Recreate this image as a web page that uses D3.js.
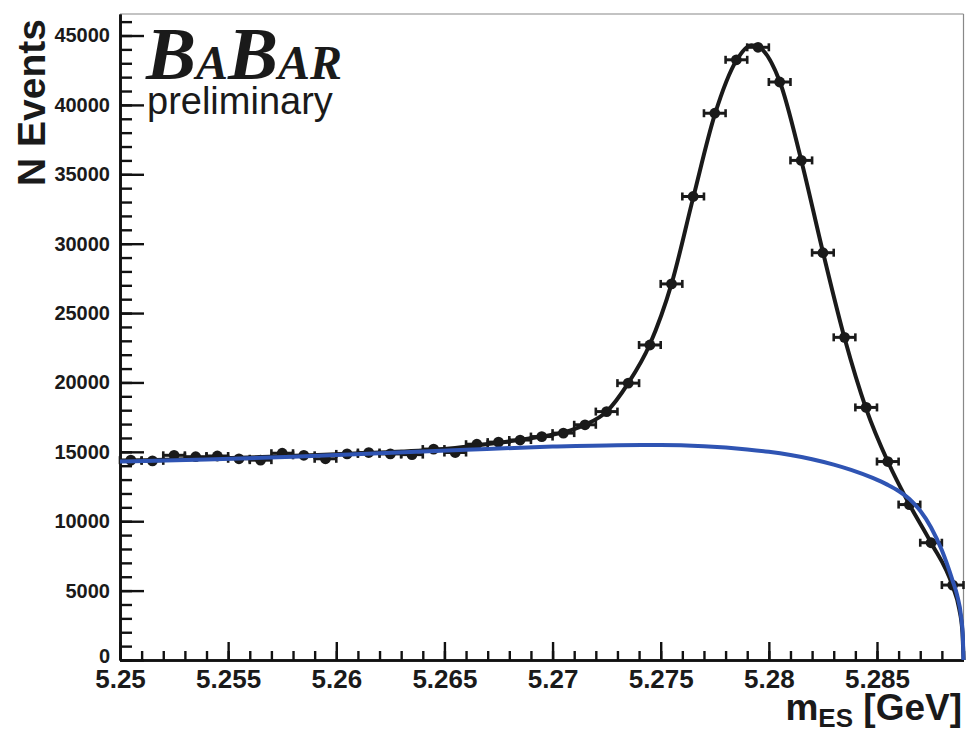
<!DOCTYPE html>
<html>
<head>
<meta charset="utf-8">
<script src="https://cdn.jsdelivr.net/npm/d3@7"></script>
<style>
  html, body { margin: 0; padding: 0; background: #fff; }
  svg { display: block; }
</style>
</head>
<body>
<svg id="chart" width="967" height="734"></svg>
<script>
// ---------------- data ----------------
const binCenters = [5.2505, 5.2515, 5.2525, 5.2535, 5.2545, 5.2555, 5.2565, 5.2575, 5.2585, 5.2595,
  5.2605, 5.2615, 5.2625, 5.2635, 5.2645, 5.2655, 5.2665, 5.2675, 5.2685, 5.2695,
  5.2705, 5.2715, 5.2725, 5.2735, 5.2745, 5.2755, 5.2765, 5.2775, 5.2785, 5.2795,
  5.2805, 5.2815, 5.2825, 5.2835, 5.2845, 5.2855, 5.2865, 5.2875, 5.2885];
const binHalfWidth = 0.0005;
const counts = [14400, 14350, 14750, 14650, 14700, 14500, 14400, 14900, 14750, 14500,
  14850, 14950, 14850, 14800, 15200, 14950, 15550, 15700, 15850, 16100,
  16350, 16950, 17900, 19950, 22700, 27100, 33400, 39400, 43250, 44150,
  41650, 36000, 29350, 23250, 18200, 14300, 11200, 8450, 5400];

// total fit curve
const totalX = [5.2500, 5.2540, 5.2580, 5.2620, 5.2650, 5.2675, 5.2695, 5.2705, 5.2715, 5.2725,
  5.2735, 5.2745, 5.2755, 5.2765, 5.2775, 5.2785, 5.2792, 5.2795, 5.2805, 5.2815,
  5.2825, 5.2835, 5.2845, 5.2855, 5.2865, 5.2875, 5.2885, 5.2888, 5.28895, 5.2890];
const totalY = [14350, 14500, 14700, 14950, 15200, 15650, 16100, 16400, 16950, 17900,
  19950, 22750, 27100, 33300, 39300, 43200, 44300, 44200, 41700, 36000,
  29400, 23200, 18100, 14300, 11200, 8450, 5300, 3700, 2000, 0];

// background fit curve
const bkgX = [5.2500, 5.2540, 5.2580, 5.2620, 5.2660, 5.2700, 5.2730, 5.2750, 5.2770, 5.2790,
  5.2800, 5.2810, 5.2820, 5.2830, 5.2838, 5.2848, 5.2855, 5.2860, 5.2865, 5.2870,
  5.2875, 5.2880, 5.2885, 5.2887, 5.2889, 5.28897, 5.2890];
const bkgY = [14300, 14450, 14650, 14900, 15150, 15380, 15480, 15490, 15400, 15170,
  15000, 14770, 14470, 14080, 13700, 13120, 12620, 12180, 11600, 10750,
  9550, 7900, 5700, 4700, 3000, 1700, 0];

const xTicksMajor = [5.25, 5.255, 5.26, 5.265, 5.27, 5.275, 5.28, 5.285];
const yTicksMajor = [0, 5000, 10000, 15000, 20000, 25000, 30000, 35000, 40000, 45000];

// ---------------- layout ----------------
const plotL = 120, plotR = 963.5, plotT = 14, plotB = 660;

const svg = d3.select("#chart");
const x = d3.scaleLinear().domain([5.25, 5.289]).range([plotL, plotR]);
const y = d3.scaleLinear().domain([0, 46550]).range([plotB, plotT]);

const sans = "'Liberation Sans', Arial, Helvetica, sans-serif";

// frame (top & right, thin gray)
svg.append("line").attr("x1", plotL).attr("x2", plotR).attr("y1", plotT).attr("y2", plotT)
  .attr("stroke", "#888").attr("stroke-width", 1.2);
svg.append("line").attr("x1", plotR).attr("x2", plotR).attr("y1", plotT).attr("y2", plotB)
  .attr("stroke", "#888").attr("stroke-width", 1.2);

// minor ticks
const xMinor = d3.range(0, 40).map(i => 5.25 + i * 0.001).filter(v => v <= 5.289 + 1e-9);
const yMinor = d3.range(0, 47000, 1000);

const gxMinor = svg.append("g").attr("transform", `translate(0,${plotB})`)
  .call(d3.axisBottom(x).tickValues(xMinor).tickSizeInner(-9).tickSizeOuter(0).tickFormat(""));
const gyMinor = svg.append("g").attr("transform", `translate(${plotL},0)`)
  .call(d3.axisLeft(y).tickValues(yMinor).tickSizeInner(-12).tickSizeOuter(0).tickFormat(""));

// major axes
const gx = svg.append("g").attr("transform", `translate(0,${plotB})`)
  .call(d3.axisBottom(x).tickValues(xTicksMajor).tickSizeInner(-18).tickSizeOuter(0)
    .tickPadding(10).tickFormat(d => String(d)));
const gy = svg.append("g").attr("transform", `translate(${plotL},0)`)
  .call(d3.axisLeft(y).tickValues(yTicksMajor).tickSizeInner(-24).tickSizeOuter(0)
    .tickPadding(10).tickFormat(d3.format("d")));

[gx, gy, gxMinor, gyMinor].forEach(g => {
  g.selectAll(".domain").attr("stroke", "#111").attr("stroke-width", 2.6);
  g.selectAll(".tick line").attr("stroke", "#111").attr("stroke-width", 2.4);
});
gx.selectAll("text").attr("font-family", sans).attr("font-weight", "bold")
  .attr("font-size", 26).attr("fill", "#1a1a1a");
gy.selectAll("text").attr("font-family", sans).attr("font-weight", "bold")
  .attr("font-size", 20).attr("fill", "#1a1a1a");
// the "0" label sits a little higher, clear of the x labels
gy.selectAll(".tick").filter(d => d === 0).select("text").attr("dy", "0.1em");

// data points with horizontal error bars
const gPts = svg.append("g");
binCenters.forEach((c, i) => {
  const xl = x(c - binHalfWidth), xr = x(c + binHalfWidth), yy = y(counts[i]);
  gPts.append("line").attr("x1", xl).attr("x2", xr).attr("y1", yy).attr("y2", yy)
    .attr("stroke", "#1a1a1a").attr("stroke-width", 3);
  [xl, xr].forEach(xe => gPts.append("line").attr("x1", xe).attr("x2", xe)
    .attr("y1", yy - 4).attr("y2", yy + 4).attr("stroke", "#1a1a1a").attr("stroke-width", 2.6));
  gPts.append("circle").attr("cx", x(c)).attr("cy", yy).attr("r", 5.4).attr("fill", "#1a1a1a");
});

// fit curves
const line = d3.line().x(d => x(d[0])).y(d => y(d[1])).curve(d3.curveMonotoneX);
svg.append("path").datum(totalX.map((v, i) => [v, totalY[i]]))
  .attr("d", line).attr("fill", "none").attr("stroke", "#1a1a1a").attr("stroke-width", 4);
svg.append("path").datum(bkgX.map((v, i) => [v, bkgY[i]]))
  .attr("d", line).attr("fill", "none").attr("stroke", "#2f54b3").attr("stroke-width", 4);

// BABAR logo
const logo = svg.append("text").attr("x", 146).attr("y", 79)
  .attr("font-family", "'Liberation Serif', 'Times New Roman', serif")
  .attr("font-weight", "bold").attr("font-style", "italic").attr("fill", "#1a1a1a");
logo.append("tspan").attr("font-size", 75).text("B");
logo.append("tspan").attr("font-size", 48).text("A");
logo.append("tspan").attr("font-size", 75).text("B");
logo.append("tspan").attr("font-size", 48).text("AR");

svg.append("text").attr("x", 147).attr("y", 114)
  .attr("font-family", sans).attr("font-size", 38).attr("fill", "#1a1a1a")
  .text("preliminary");

// axis titles
svg.append("text")
  .attr("transform", "translate(45,186) rotate(-90)")
  .attr("text-anchor", "start")
  .attr("font-family", sans).attr("font-weight", "bold").attr("font-size", 39).attr("fill", "#1a1a1a")
  .text("N Events");

const xt = svg.append("text").attr("x", 962).attr("y", 720).attr("text-anchor", "end")
  .attr("font-family", sans).attr("font-weight", "bold").attr("font-size", 37).attr("fill", "#1a1a1a");
xt.append("tspan").text("m");
xt.append("tspan").attr("font-size", 26).attr("dy", 7).text("ES");
xt.append("tspan").attr("dy", -7).text(" [GeV]");
</script>
</body>
</html>
